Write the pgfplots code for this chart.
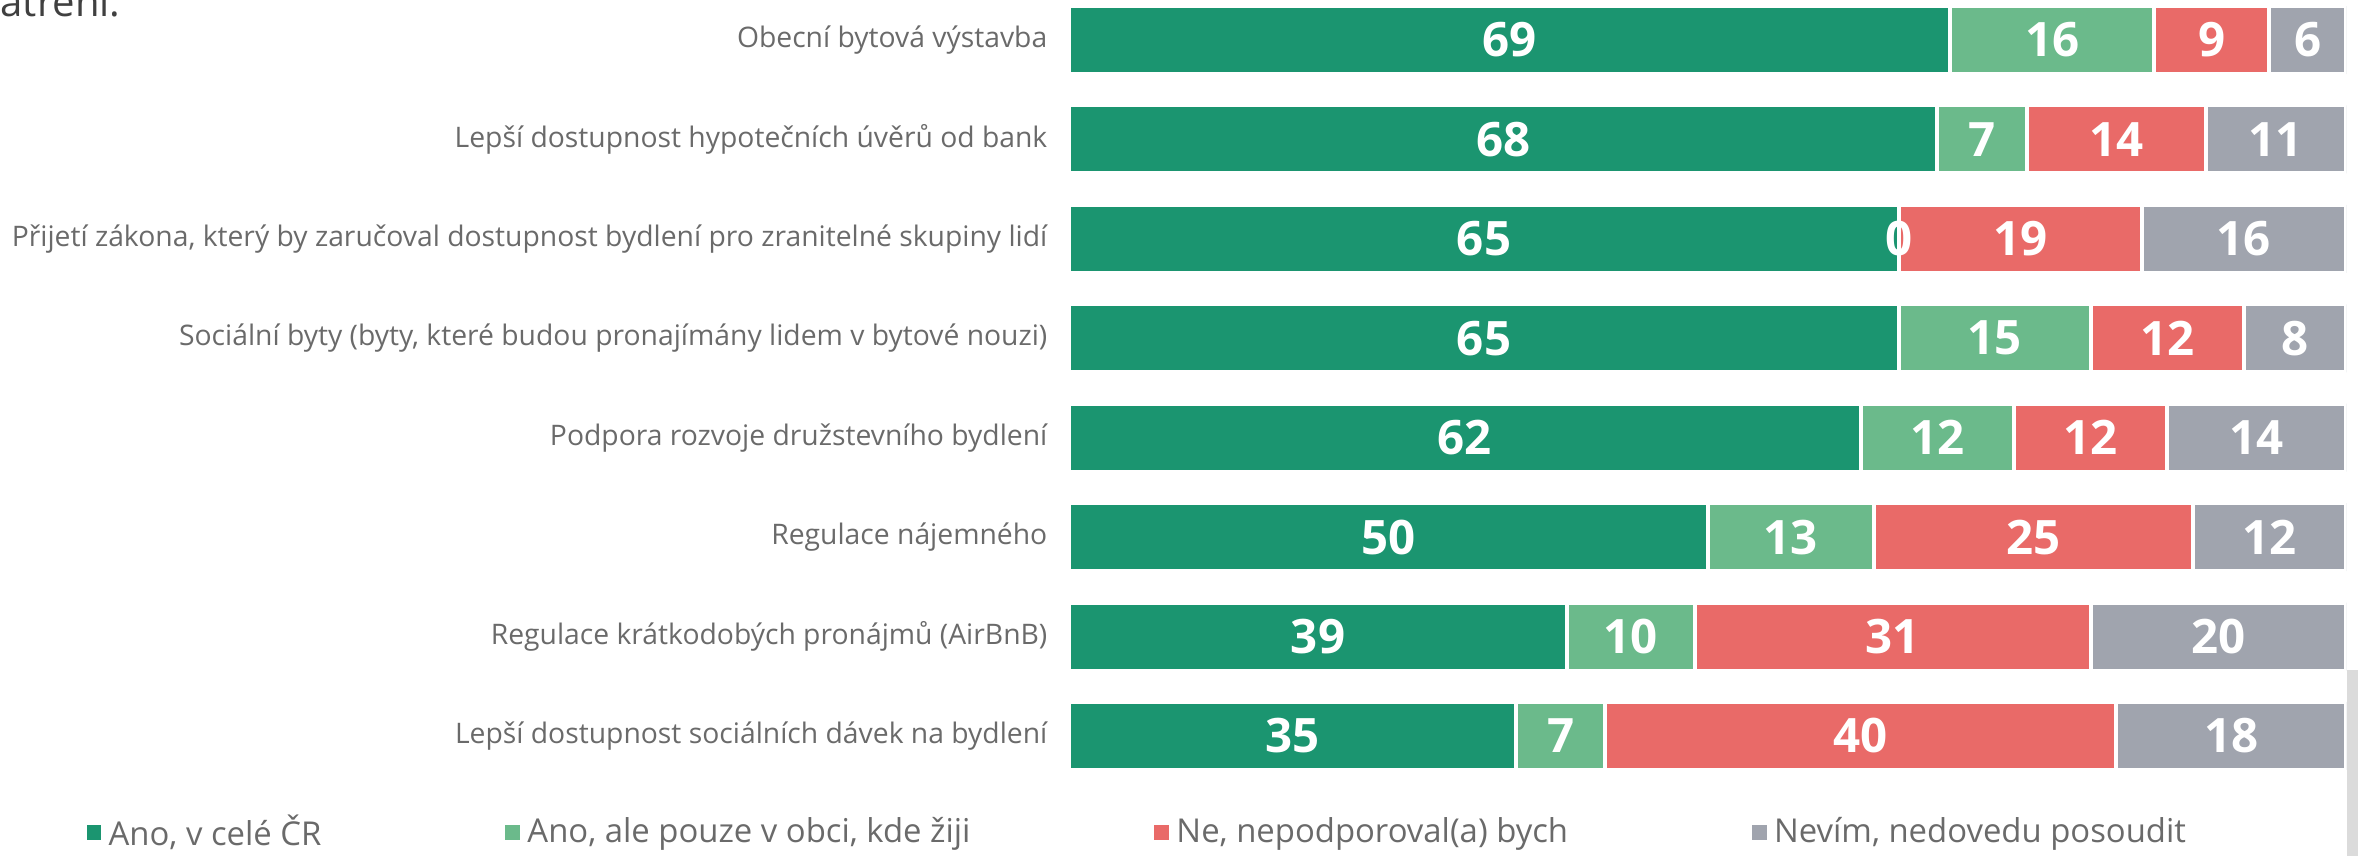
\documentclass[border=0pt]{standalone}
\usepackage{pgfplots}
\pgfplotsset{compat=1.18}
\usepackage{fontspec}
\setmainfont{Open Sans}
\definecolor{cA}{HTML}{1B9570}
\definecolor{cB}{HTML}{6BBA8B}
\definecolor{cC}{HTML}{E96A68}
\definecolor{cD}{HTML}{A0A4AE}
\definecolor{lblgray}{HTML}{6A6A6A}
\definecolor{titlegray}{HTML}{404040}
\pgfplotstableread{
row a b c d
7 69 16 9 6
6 68 7 14 11
5 65 0 19 16
4 65 15 12 8
3 62 12 12 14
2 50 13 25 12
1 39 10 31 20
0 35 7 40 18
}\datatable
\begin{document}
\begin{tikzpicture}
\node[anchor=base west, inner sep=0pt, text=titlegray, font=\fontsize{11.4}{13}\selectfont] at (0,-1.6mm) {atření.};
\begin{axis}[
  at={(106.9mm,0.97mm)}, anchor=north west,
  width=127.7mm, height=79.54mm, scale only axis,
  set layers, mark layer=axis foreground,
  xbar stacked, bar width=6.8mm,
  stacked ignores zero=false,
  xmin=0, xmax=100, ymin=-0.5, ymax=7.5,
  axis line style={draw=none}, major tick length=0pt, xtick=\empty,
  ytick={0,...,7},
  yticklabels={Lepší dostupnost sociálních dávek na bydlení,
    Regulace krátkodobých pronájmů (AirBnB),
    Regulace nájemného,
    Podpora rozvoje družstevního bydlení,
    {Sociální byty (byty, které budou pronajímány lidem v bytové nouzi)},
    {Přijetí zákona, který by zaručoval dostupnost bydlení pro zranitelné skupiny lidí},
    Lepší dostupnost hypotečních úvěrů od bank,
    Obecní bytová výstavba},
  yticklabel style={inner sep=0pt, xshift=-2.1mm, text=lblgray, font=\fontsize{8.05}{9}\selectfont},
  every axis plot/.append style={draw=white, line width=0.4mm},
  point meta=explicit,
  nodes near coords,
  /pgf/number format/assume math mode=true,
  every node near coord/.append style={text=white, font=\bfseries\fontsize{13.5}{14}\selectfont},
  legend columns=4,
  legend style={at={(-0.7698,-0.0588)}, anchor=west, draw=none, fill=none, inner sep=0pt,
    font=\fontsize{9.35}{10}\selectfont, text=lblgray,
    nodes={inner sep=0pt}, cells={anchor=west},
    /tikz/every odd column/.append style={column sep=0.75mm},
    /tikz/every even column/.append style={column sep=18.4mm}},
  legend image code/.code={\path[#1, draw=none] (0mm,-0.72mm) rectangle (1.45mm,0.72mm);},
]
\addplot[fill=cA] table[x=a, y=row, meta=a] {\datatable};
\addplot[fill=cB] table[x=b, y=row, meta=b] {\datatable};
\addplot[fill=cC] table[x=c, y=row, meta=c] {\datatable};
\addplot[fill=cD] table[x=d, y=row, meta=d] {\datatable};
\legend{{Ano, v celé ČR}, {Ano, ale pouze v obci, kde žiji}, {Ne, nepodporoval(a) bych}, {Nevím, nedovedu posoudit}}
\end{axis}
\fill[black!14] (234.7mm,-67mm) rectangle (235.8mm,-85.6mm);
\pgfresetboundingbox
\path[use as bounding box] (0,0) rectangle (235.8mm,-85.6mm);
\end{tikzpicture}
\end{document}
